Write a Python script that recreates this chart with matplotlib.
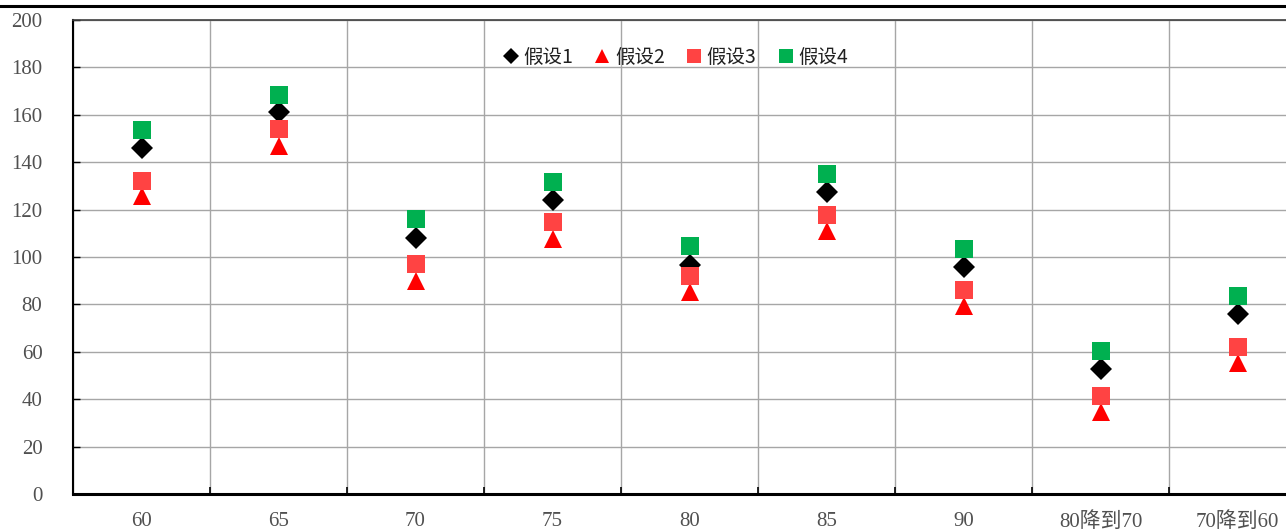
import numpy as np
import matplotlib
matplotlib.use("Agg")
import matplotlib.pyplot as plt
from matplotlib.lines import Line2D
from matplotlib.ticker import FixedLocator

plt.rcParams["font.family"] = ["Noto Sans CJK SC", "DejaVu Sans"]

categories = ["60", "65", "70", "75", "80", "85", "90", "80降到70", "70降到60"]
hyp1 = [146, 161, 108, 124, 96.6, 127.4, 95.8, 52.7, 76]
hyp2 = [125.7, 146.8, 90, 107.6, 85.2, 111, 79.3, 34.6, 55.3]
hyp3 = [132, 154, 97, 114.8, 92, 117.7, 86, 41.4, 62]
hyp4 = [153.6, 168.4, 116, 131.6, 104.6, 135, 103.4, 60.3, 83.5]
series_names = ["假设1", "假设2", "假设3", "假设4"]

W, H = 1286, 531
fig = plt.figure(figsize=(W / 100, H / 100), dpi=100)
# plot area runs a little past the right edge of the figure
ax = fig.add_axes([73 / W, 37 / H, (1306 - 73) / W, (494 - 20) / H])

x = np.arange(len(categories))
styles = [
    dict(marker="D", color="black", ms=11),
    dict(marker="^", color="#FF0000", ms=13),
    dict(marker="s", color="#FF4343", ms=13),
    dict(marker="s", color="#00B050", ms=13),
]
for vals, st, name in zip([hyp1, hyp2, hyp3, hyp4], styles, series_names):
    ax.plot(x, vals, ls="none", marker=st["marker"], color=st["color"],
            ms=st["ms"], mew=0, label=name, zorder=3)

ax.set_xlim(-0.5, len(categories) - 0.5)
ax.set_ylim(0, 200)
ax.set_yticks(np.arange(0, 201, 20))
ax.set_xticks(x)
ax.set_xticklabels(categories)
ax.xaxis.set_minor_locator(FixedLocator(np.arange(-0.5, len(categories), 1.0)))

ax.grid(True, axis="y", which="major", color="#A6A6A6", lw=1)
ax.grid(True, axis="x", which="minor", color="#A6A6A6", lw=1)
ax.set_axisbelow(True)

ax.tick_params(axis="x", which="major", length=0, pad=13)
ax.tick_params(axis="x", which="minor", direction="in", length=5, color="black", width=1.2)
ax.tick_params(axis="y", direction="in", length=5, width=1, pad=22)
tick_font = ["Liberation Serif", "Noto Sans CJK SC"]
for lab in ax.get_yticklabels() + ax.get_xticklabels():
    lab.set_family(tick_font); lab.set_fontsize(15); lab.set_color("#505050")

ax.spines["left"].set_linewidth(1.5)
ax.spines["bottom"].set_linewidth(2.2)
ax.spines["top"].set_linewidth(1.2)
ax.spines["top"].set_color("#404040")
ax.spines["right"].set_visible(False)

handles = [Line2D([0], [0], ls="none", marker=st["marker"], color=st["color"],
                  ms=st["ms"] * 0.75, mew=0) for st in styles]
ax.legend(handles, series_names, ncol=4, loc="center", bbox_to_anchor=(0.487, 0.922),
          frameon=False, fontsize=14, handletextpad=0.05, columnspacing=0.9,
          handlelength=1.2, labelcolor="#202020")

# rule across the top of the page
fig.add_artist(Line2D([0, 1], [1 - 5.5 / H, 1 - 5.5 / H], color="black", lw=2.2))

fig.savefig("out.png", dpi=100)
